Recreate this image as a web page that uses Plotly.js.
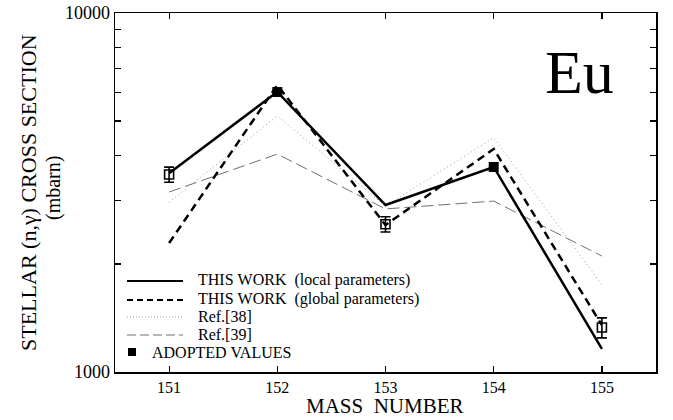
<!DOCTYPE html>
<html>
<head>
<meta charset="utf-8">
<script src="https://cdn.plot.ly/plotly-3.0.1.min.js"></script>
<style>
  html, body { margin: 0; padding: 0; background: #fff; }
  #chart { width: 673px; height: 420px; }
</style>
</head>
<body>
<div id="chart"></div>
<script>
// ---- data ----
const massNumbers = [151, 152, 153, 154, 155];
const localParams  = [3580, 6030, 2918, 3725, 1160];
const globalParams = [2287, 6300, 2567, 4180, 1350];
const ref38        = [2970, 5165, 2900, 4490, 1750];
const ref39        = [3172, 4046, 2846, 2993, 2104];

const measuredMass  = [151, 153, 155];
const measuredValue = [3550, 2580, 1330];
const measuredError = [172, 126, 85];

const adoptedMass  = [152, 154];
const adoptedValue = [6026, 3725];

const yTickVals = [1000, 2000, 3000, 4000, 5000, 6000, 7000, 8000, 9000, 10000];
const yTickText = ['1000', '', '', '', '', '', '', '', '', '10000'];
const xTickVals = [151, 152, 153, 154, 155];

const legendLabels = [
  'THIS\u00a0WORK\u00a0\u00a0(local parameters)',
  'THIS\u00a0WORK\u00a0\u00a0(global parameters)',
  'Ref.[38]',
  'Ref.[39]',
  'ADOPTED VALUES'
];

const serif = "'Liberation Serif', 'Times New Roman', Times, serif";

const traces = [
  { x: massNumbers, y: ref38, mode: 'lines', line: { color: '#9a9a9a', width: 1, dash: '1px,3px' }, hoverinfo: 'skip' },
  { x: massNumbers, y: ref39, mode: 'lines', line: { color: '#707070', width: 1, dash: '12px,5px' }, hoverinfo: 'skip' },
  { x: massNumbers, y: globalParams, mode: 'lines', line: { color: '#000', width: 2.5, dash: '8px,5px' } },
  { x: massNumbers, y: localParams, mode: 'lines', line: { color: '#000', width: 2.5 } },
  { x: measuredMass, y: measuredValue, mode: 'markers',
    marker: { symbol: 'square-open', size: 9, color: '#000', line: { width: 1.6, color: '#000' } },
    error_y: { type: 'data', array: measuredError, visible: true, color: '#000', thickness: 1.6, width: 5 } },
  { x: adoptedMass, y: adoptedValue, mode: 'markers',
    marker: { symbol: 'square', size: 10, color: '#000' } }
];

// legend drawn in paper coordinates
const px = v => (v - 115) / 541;
const py = v => (372 - v) / 359;
const rowsY = [281, 300, 317, 335];
const lineStyles = [
  { color: '#000', width: 2.2, dash: 'solid' },
  { color: '#000', width: 2.2, dash: '6px,4px' },
  { color: '#9a9a9a', width: 1, dash: '1px,2px' },
  { color: '#707070', width: 1, dash: '9px,4px' }
];
const shapes = rowsY.map((ry, i) => ({
  type: 'line', xref: 'paper', yref: 'paper',
  x0: px(127), x1: px(183), y0: py(ry), y1: py(ry),
  line: lineStyles[i]
}));
shapes.push({
  type: 'rect', xref: 'paper', yref: 'paper',
  x0: px(128), x1: px(136), y0: py(356), y1: py(348),
  fillcolor: '#000', line: { width: 0 }
});

const legendFont = { family: serif, size: 16, color: '#000' };
const annotations = [];
rowsY.forEach((ry, i) => {
  annotations.push({
    xref: 'paper', yref: 'paper', x: px(196), y: py(ry - 1), xanchor: 'left', yanchor: 'middle',
    text: legendLabels[i], showarrow: false, font: legendFont
  });
});
annotations.push({
  xref: 'paper', yref: 'paper', x: px(150), y: py(352), xanchor: 'left', yanchor: 'middle',
  text: legendLabels[4], showarrow: false, font: legendFont
});
annotations.push({
  xref: 'paper', yref: 'paper', x: px(579), y: py(72), xanchor: 'center', yanchor: 'middle',
  text: 'Eu', showarrow: false, font: { family: serif, size: 62, color: '#000' }
});
annotations.push({
  xref: 'paper', yref: 'paper', x: 0, y: py(193), xanchor: 'center', yanchor: 'middle', xshift: -87,
  textangle: -90, text: 'STELLAR (n,\u03b3) CROSS SECTION', showarrow: false,
  font: { family: serif, size: 22, color: '#000' }
});
annotations.push({
  xref: 'paper', yref: 'paper', x: 0, y: py(188), xanchor: 'center', yanchor: 'middle', xshift: -62,
  textangle: -90, text: '(mbarn)', showarrow: false,
  font: { family: serif, size: 20, color: '#000' }
});
annotations.push({
  xref: 'paper', yref: 'paper', x: px(385), y: py(406), xanchor: 'center', yanchor: 'middle',
  text: 'MASS\u00a0\u00a0NUMBER', showarrow: false,
  font: { family: serif, size: 21, color: '#000' }
});

const layout = {
  width: 673, height: 420,
  margin: { l: 115, r: 17, t: 13, b: 48, pad: 0 },
  paper_bgcolor: '#fff', plot_bgcolor: '#fff',
  showlegend: false,
  font: { family: serif, color: '#000' },
  xaxis: {
    range: [150.5, 155.5], tickvals: xTickVals, ticks: 'inside', ticklen: 6, tickwidth: 1.2,
    tickcolor: '#000', showline: true, linecolor: '#000', linewidth: 1.5, mirror: 'ticks',
    showgrid: false, zeroline: false, tickfont: { family: serif, size: 16, color: '#000' }
  },
  yaxis: {
    type: 'log', range: [3, 4], tickvals: yTickVals, ticktext: yTickText, ticks: 'inside', ticklen: 6,
    tickwidth: 1.2, tickcolor: '#000', showline: true, linecolor: '#000', linewidth: 1.5, mirror: 'ticks',
    showgrid: false, zeroline: false, tickfont: { family: serif, size: 18, color: '#000' }
  },
  shapes: shapes,
  annotations: annotations
};

Plotly.newPlot('chart', traces, layout, { staticPlot: true, displayModeBar: false });
</script>
</body>
</html>
